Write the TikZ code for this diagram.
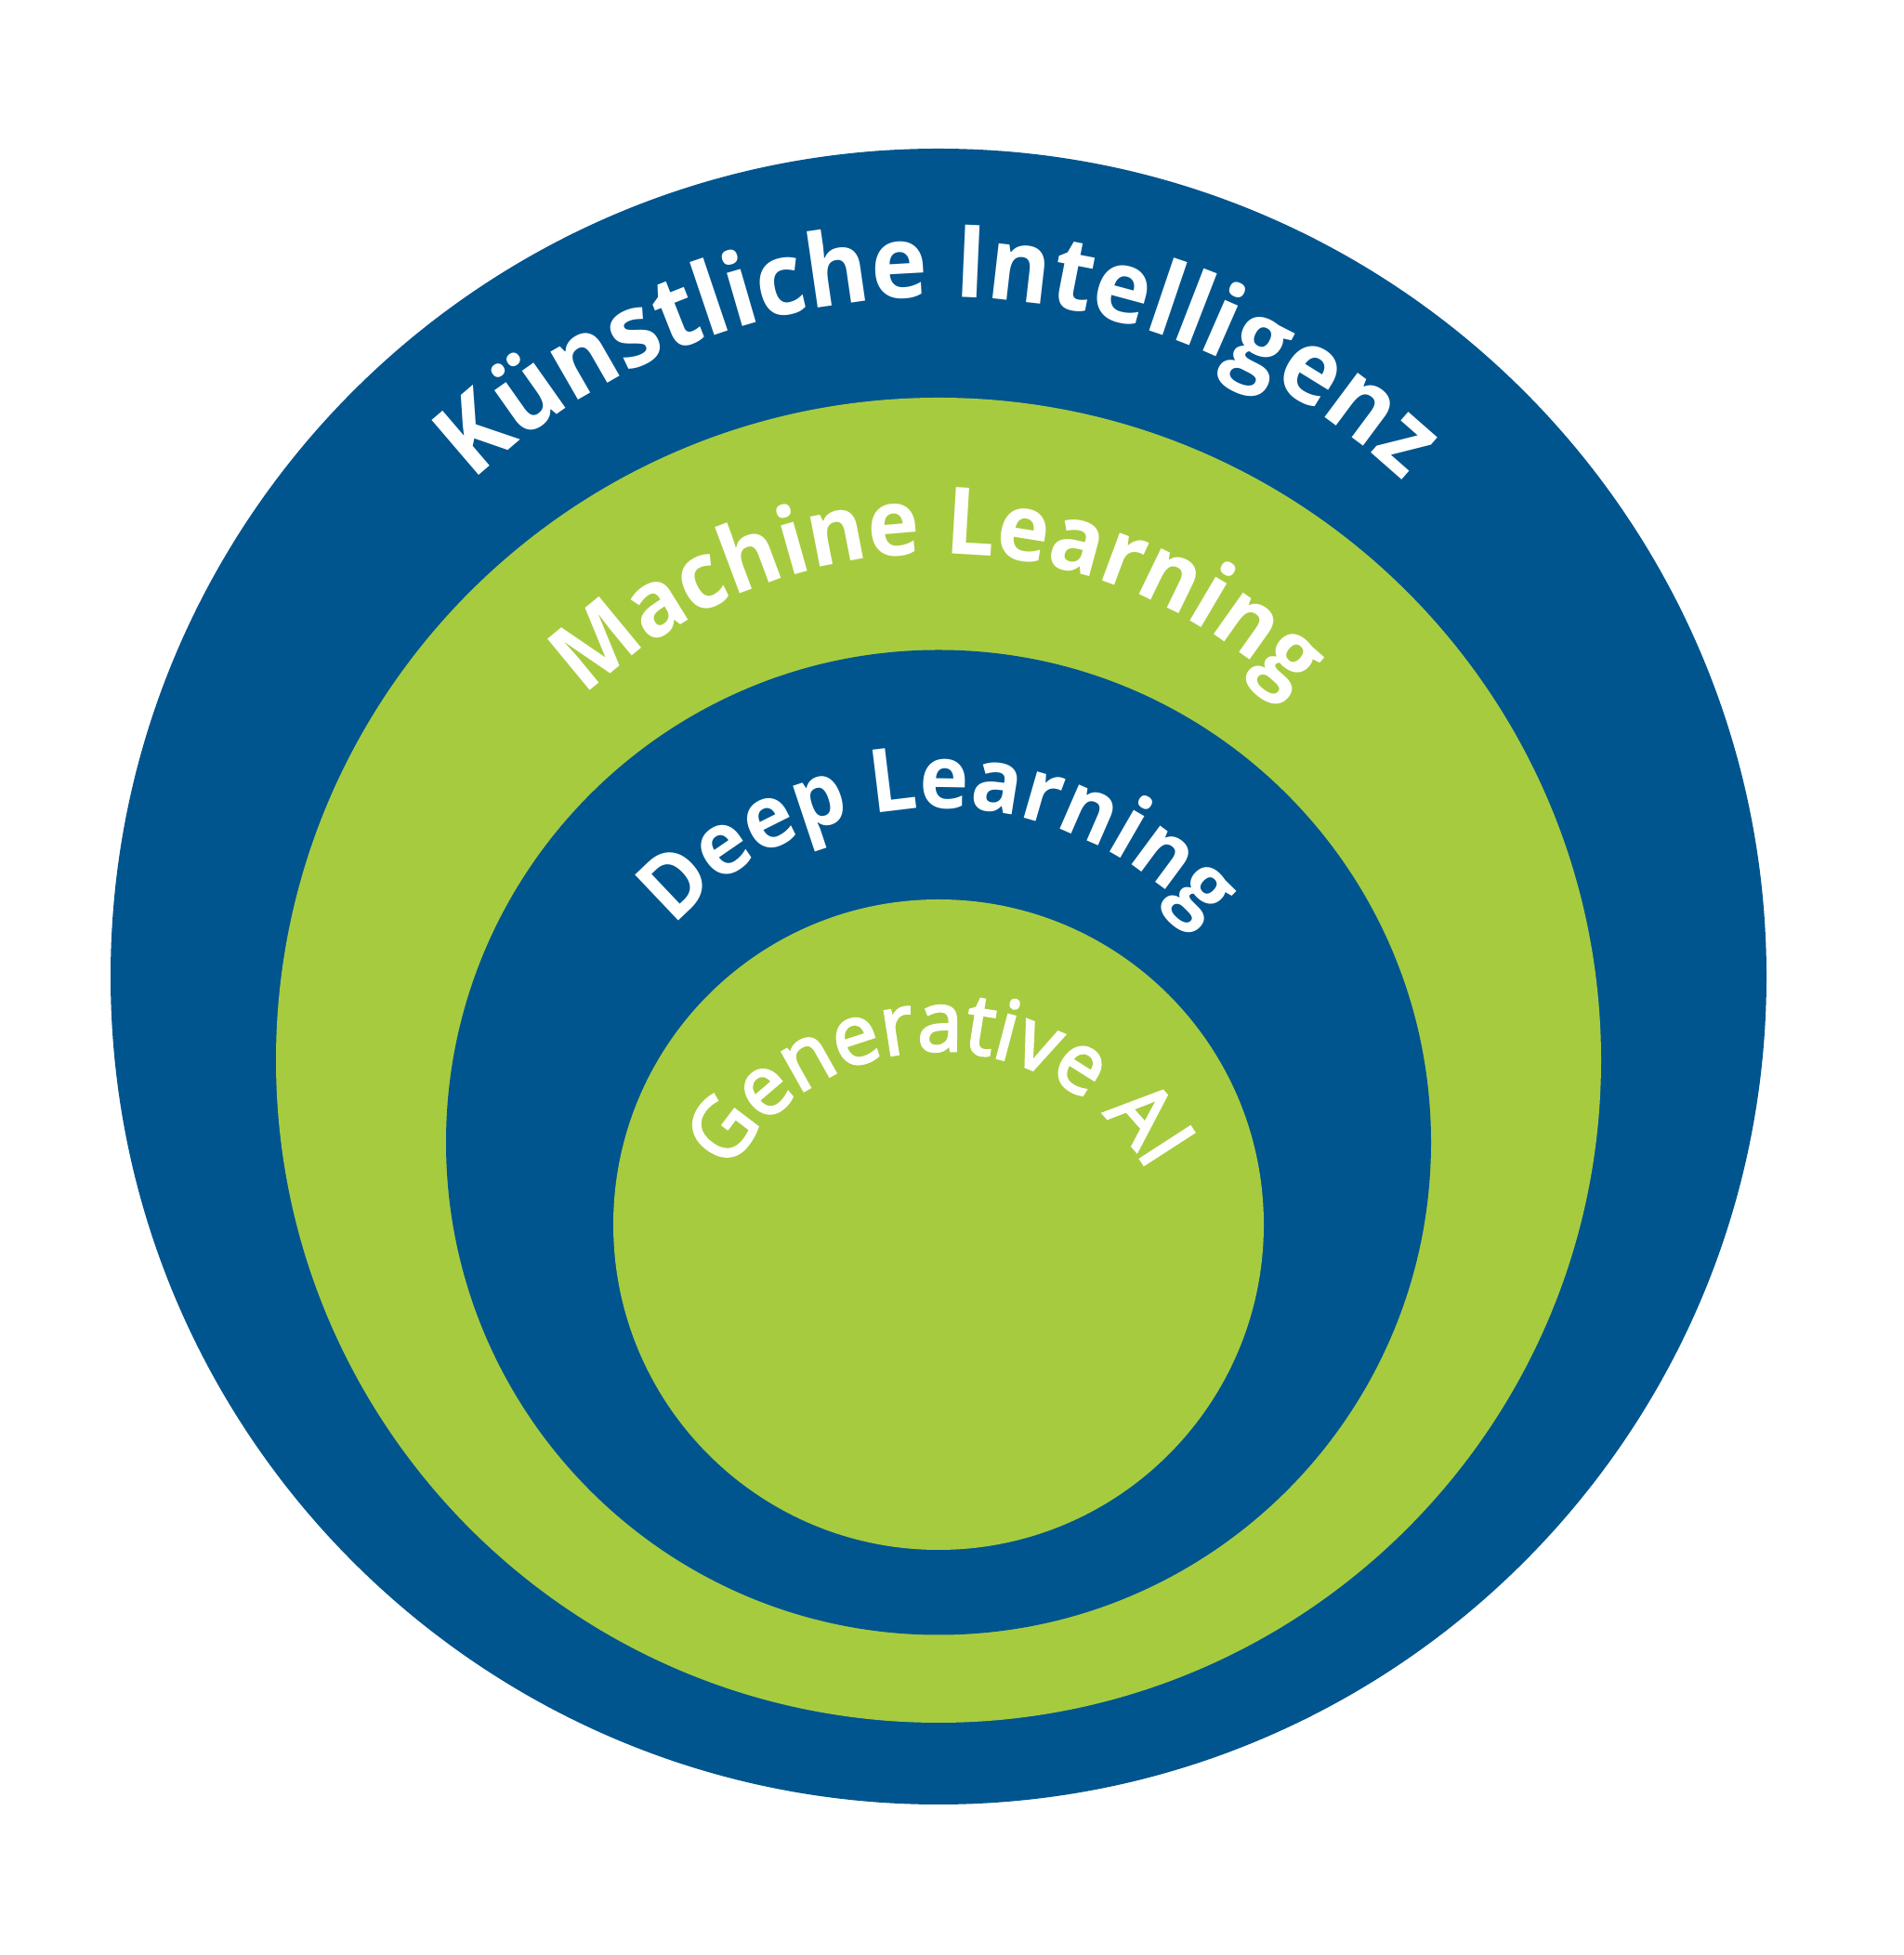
\documentclass[tikz,border=0pt]{standalone}
\usepackage{fontspec}
\setmainfont{Open Sans}
\newfontfamily\lblfont{Open Sans}[FakeStretch=0.94]
\newfontfamily\genfont{Open Sans}[FakeBold=3,FakeStretch=0.97]
\usetikzlibrary{decorations.text}
\definecolor{aiblue}{HTML}{00558F}
\definecolor{aigreen}{HTML}{A7CB3F}
\tikzset{
  arclabel/.style={decorate, decoration={text along path, text align=center, text color=white, text={#1}}}
}
\begin{document}
\begin{tikzpicture}
\useasboundingbox (0,0) rectangle (20.48,21.04);
\fill[white] (0,0) rectangle (20.48,21.04);
\coordinate (cKI) at (10.10,10.53);
\coordinate (cML) at (10.10,9.63);
\coordinate (cDL) at (10.10,8.745);
\coordinate (cGA) at (10.10,7.86);
\fill[aiblue]  (cKI) circle[radius=8.91];
\fill[aigreen] (cML) circle[radius=7.13];
\fill[aiblue]  (cDL) circle[radius=5.30];
\fill[aigreen] (cGA) circle[radius=3.50];
% text arcs
\coordinate (tKI) at (10.10,10.53);
\coordinate (tML) at (10.10,9.63);
\coordinate (tDL) at (10.10,8.545);
\coordinate (tGA) at (10.10,7.12);
\path[arclabel={|\lblfont\fontsize{31}{31}\selectfont\bfseries|Künstliche Intelligenz}]
  (tKI) ++(150:7.31) arc[start angle=150, end angle=30, radius=7.31];
\path[arclabel={|\lblfont\fontsize{28.5}{28.5}\selectfont\bfseries|Machine Learning}]
  (tML) ++(150:5.45) arc[start angle=150, end angle=30, radius=5.45];
\path[arclabel={|\lblfont\fontsize{27}{27}\selectfont\bfseries|Deep Learning}]
  (tDL) ++(160:3.80) arc[start angle=160, end angle=20, radius=3.80];
\path[arclabel={|\genfont\fontsize{25.5}{25.5}\selectfont|Generative AI}]
  (tGA) ++(175:2.61) arc[start angle=175, end angle=5, radius=2.61];
\end{tikzpicture}
\end{document}
